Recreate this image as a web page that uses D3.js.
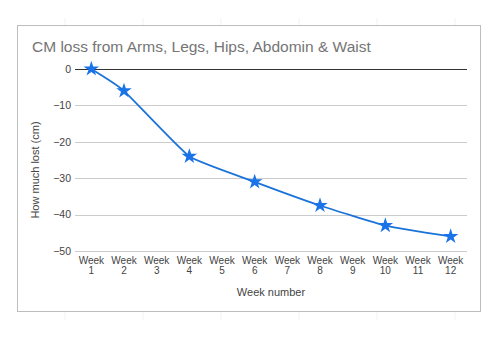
<!DOCTYPE html>
<html><head><meta charset="utf-8">
<script src="https://cdn.jsdelivr.net/npm/d3@7"></script>
<style>body{margin:0;background:#fff;} text{font-family:Arial,"Liberation Sans",sans-serif;}</style>
</head><body>
<svg id="c" width="500" height="340"></svg>
<script>
const weeks = ["1","2","3","4","5","6","7","8","9","10","11","12"];
const lossValues = [0, -6, null, -24, null, -31, null, -37.5, null, -43, null, -46];
const yTicks = [0, -10, -20, -30, -40, -50];
const title = "CM loss from Arms, Legs, Hips, Abdomin & Waist";
const xTitle = "Week number";
const yTitle = "How much lost (cm)";

const svg = d3.select("#c");
// faint spreadsheet grid behind
const bgX = [65, 143, 221, 299, 377, 455];
svg.selectAll("line.bgx").data(bgX).enter().append("line")
  .attr("x1", d => d).attr("x2", d => d).attr("y1", 18).attr("y2", 320)
  .attr("stroke", "#f2f2f2").attr("stroke-width", 1);

// chart box
svg.append("rect").attr("x", 17.5).attr("y", 25.5).attr("width", 463).attr("height", 286)
  .attr("fill", "#fff").attr("stroke", "#bdbdbd").attr("stroke-width", 1);

svg.append("text").attr("x", 32).attr("y", 52).attr("font-size", 15.5)
  .attr("fill", "#757575").text(title);

const x = d3.scaleBand().domain(weeks).range([75, 467]).padding(0);
const y = d3.scaleLinear().domain([-50, 0]).range([251, 69]);

// gridlines
svg.selectAll("line.grid").data(yTicks).enter().append("line")
  .attr("x1", 75).attr("x2", 467)
  .attr("y1", d => Math.round(y(d)) + 0.5).attr("y2", d => Math.round(y(d)) + 0.5)
  .attr("stroke", d => d === 0 ? "#333" : "#cccccc").attr("stroke-width", 1);

const yAxis = d3.axisLeft(y).tickValues(yTicks).tickSize(0).tickPadding(4);
const gy = svg.append("g").attr("transform", "translate(75,0)").call(yAxis);
gy.select(".domain").remove();
gy.selectAll("text").attr("font-size", 10.5).attr("fill", "#444").attr("font-family", "Arial, 'Liberation Sans', sans-serif");

const xAxis = d3.axisBottom(x).tickSize(0).tickFormat(() => "");
const gx = svg.append("g").attr("transform", "translate(0,251)").call(xAxis);
gx.select(".domain").remove();
gx.selectAll(".tick text").remove();
gx.selectAll(".tick").append("text").attr("fill", "#444").attr("font-size", 10)
  .attr("text-anchor", "middle").attr("font-family", "Arial, 'Liberation Sans', sans-serif")
  .each(function(d) {
    const t = d3.select(this);
    t.append("tspan").attr("x", 0).attr("y", 13).text("Week");
    t.append("tspan").attr("x", 0).attr("y", 22.5).text(d);
  });

svg.append("text").attr("x", 271).attr("y", 296).attr("text-anchor", "middle")
  .attr("font-size", 11).attr("fill", "#444").text(xTitle);
svg.append("text").attr("transform", "translate(39,170) rotate(-90)").attr("text-anchor", "middle")
  .attr("font-size", 11).attr("fill", "#444").text(yTitle);

const pts = weeks.map((w, i) => ({w, v: lossValues[i]})).filter(d => d.v !== null);
const cx = d => x(d.w) + x.bandwidth() / 2;
const line = d3.line().x(cx).y(d => y(d.v)).curve(d3.curveCardinal.tension(0.6));
svg.append("path").datum(pts).attr("d", line).attr("fill", "none")
  .attr("stroke", "#1a73d9").attr("stroke-width", 1.8);

const star = d3.symbol().type(d3.symbolStar).size(75);
svg.selectAll("path.pt").data(pts).enter().append("path")
  .attr("transform", d => `translate(${cx(d)},${y(d.v)})`)
  .attr("d", star).attr("fill", "#1a73e8");
</script>
</body></html>
